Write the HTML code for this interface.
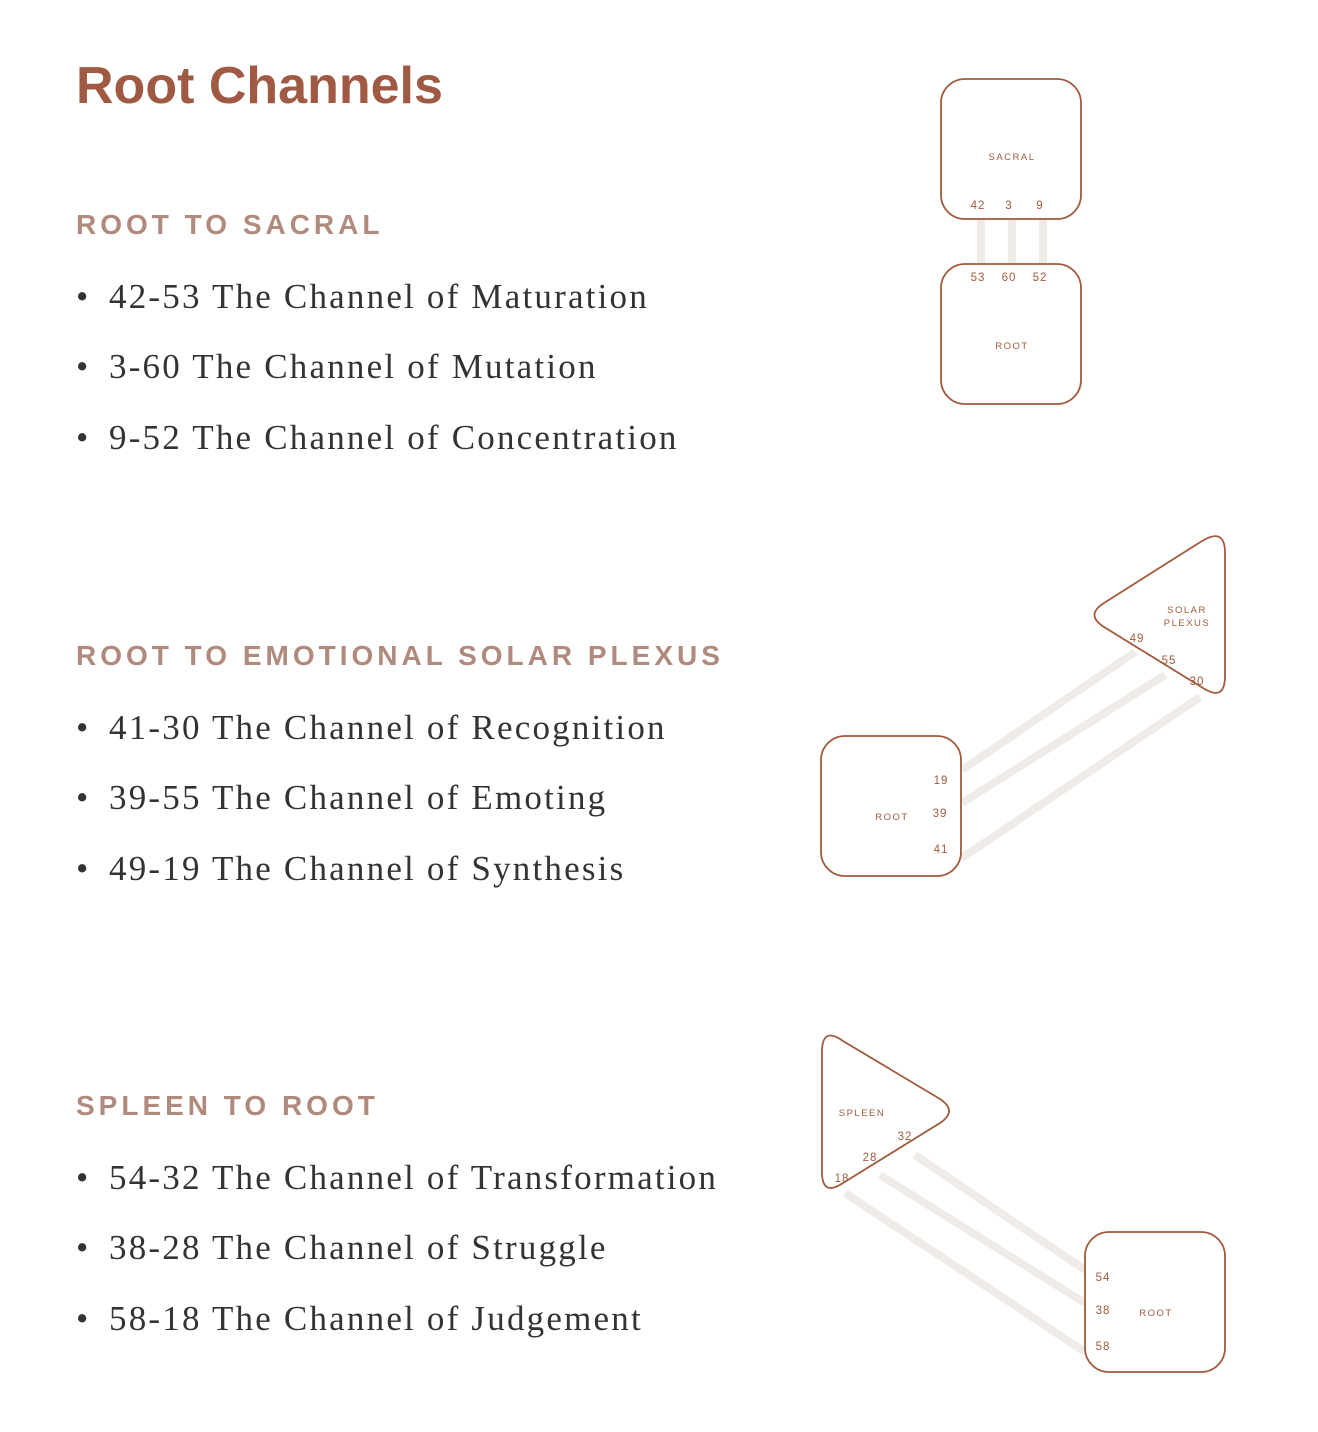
<!DOCTYPE html>
<html><head><meta charset="utf-8"><style>
body{margin:0;background:#fff;width:1318px;height:1432px;position:relative;overflow:hidden}
.t{position:absolute;left:76px;top:56px;font:bold 52px "Liberation Sans",sans-serif;color:#a05a44;letter-spacing:0px}
.h{position:absolute;left:76px;font:bold 28px "Liberation Sans",sans-serif;color:#b08a7c;letter-spacing:4px}
.b{position:absolute;left:76px;font:35px "Liberation Serif",serif;color:#333;white-space:nowrap;letter-spacing:2.2px}
.b:before{content:"•";position:absolute;left:0}
.b span{margin-left:33px}
svg{position:absolute;left:0;top:0}
</style></head><body>
<div class="t">Root Channels</div>
<div class="h" style="top:209px">ROOT TO SACRAL</div>
<div class="b" style="top:277px"><span>42-53 The Channel of Maturation</span></div>
<div class="b" style="top:347px"><span>3-60 The Channel of Mutation</span></div>
<div class="b" style="top:418px"><span>9-52 The Channel of Concentration</span></div>
<div class="h" style="top:640px">ROOT TO EMOTIONAL SOLAR PLEXUS</div>
<div class="b" style="top:708px"><span>41-30 The Channel of Recognition</span></div>
<div class="b" style="top:778px"><span>39-55 The Channel of Emoting</span></div>
<div class="b" style="top:849px"><span>49-19 The Channel of Synthesis</span></div>
<div class="h" style="top:1090px">SPLEEN TO ROOT</div>
<div class="b" style="top:1158px"><span>54-32 The Channel of Transformation</span></div>
<div class="b" style="top:1228px"><span>38-28 The Channel of Struggle</span></div>
<div class="b" style="top:1299px"><span>58-18 The Channel of Judgement</span></div>
<svg width="1318" height="1432" font-family="Liberation Sans,sans-serif" fill="#a05a3c" font-size="11" text-anchor="middle">
<g stroke="#efebe8" stroke-width="8">
<line x1="981" y1="219" x2="981" y2="264"/><line x1="1012" y1="219" x2="1012" y2="264"/><line x1="1043" y1="219" x2="1043" y2="264"/>
<line x1="962" y1="770" x2="1135" y2="652"/><line x1="962" y1="803" x2="1165" y2="675"/><line x1="962" y1="858" x2="1200" y2="697"/>
<line x1="915" y1="1155" x2="1085" y2="1270"/><line x1="880" y1="1175" x2="1085" y2="1303"/><line x1="845" y1="1193" x2="1085" y2="1352"/>
</g>
<g fill="#fff" stroke="#a05a3c" stroke-width="1.8">
<rect x="941" y="79" width="140" height="140" rx="24"/>
<rect x="941" y="264" width="140" height="140" rx="24"/>
<rect x="821" y="736" width="140" height="140" rx="24"/>
<rect x="1085" y="1232" width="140" height="140" rx="24"/>
<path d="M1202,541 Q1225,527 1225,553 L1225,676 Q1225,702 1203,688 L1104,627 Q1085,615 1104,603 Z"/>
<path d="M822,1052 Q822,1026 843,1041 L940,1099 Q958,1111 940,1123 L843,1183 Q822,1197 822,1172 Z"/>
</g>
<g font-size="9.5" letter-spacing="1.5">
<text x="1012" y="160">SACRAL</text><text x="1012" y="349">ROOT</text>
<text x="892" y="820">ROOT</text><text x="1187" y="613">SOLAR</text><text x="1187" y="626">PLEXUS</text>
<text x="862" y="1116">SPLEEN</text><text x="1156" y="1316">ROOT</text>
</g>
<g font-size="11.5" letter-spacing="1">
<text x="978" y="209">42</text><text x="1009" y="209">3</text><text x="1040" y="209">9</text>
<text x="978" y="281">53</text><text x="1009" y="281">60</text><text x="1040" y="281">52</text>
<text x="941" y="784">19</text><text x="940" y="817">39</text><text x="941" y="853">41</text>
<text x="1137" y="642">49</text><text x="1169" y="664">55</text><text x="1197" y="685">30</text>
<text x="905" y="1140">32</text><text x="870" y="1161">28</text><text x="842" y="1182">18</text>
<text x="1103" y="1281">54</text><text x="1103" y="1314">38</text><text x="1103" y="1350">58</text>
</g>
</svg>
</body></html>
